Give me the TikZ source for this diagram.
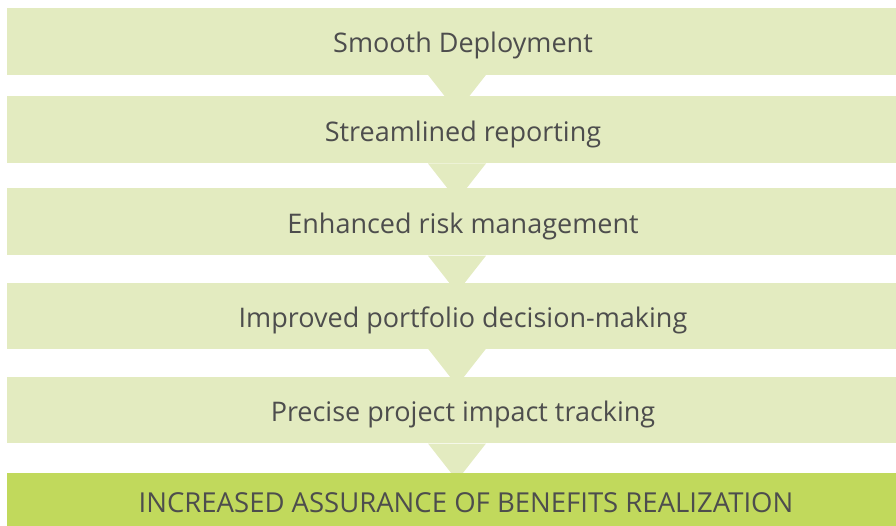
\documentclass[tikz,border=0pt]{standalone}
\usepackage{fontspec}
\setmainfont{Open Sans}
\definecolor{lightg}{HTML}{E3EBC0}
\definecolor{darkg}{HTML}{C1D95C}
\definecolor{txt}{HTML}{4D4D4D}
\begin{document}
\begin{tikzpicture}[x=1pt,y=-1pt,
  box/.style={rectangle, fill=lightg, inner sep=0pt, minimum width=912pt,
    text=txt, font=\fontsize{27}{30}\selectfont, text height=23pt, text depth=0pt},
  finalbox/.style={box, fill=darkg},
  arrowtip/.style={fill=lightg}]
\useasboundingbox (0,0) rectangle (896,526);
\clip (0,0) rectangle (896,526);
% boxes and arrows, drawn in order so each box covers the previous arrow tip
\node[box, minimum height=66.7pt] (b1) at (463,41.35) {Smooth Deployment};
\fill[arrowtip] ([xshift=-35pt]b1.south) -- ([xshift=23pt]b1.south) -- ([xshift=-6pt,yshift=-37pt]b1.south) -- cycle;
\node[box, minimum height=67.3pt] (b2) at (463,129.65) {Streamlined reporting};
\fill[arrowtip] ([xshift=-35pt]b2.south) -- ([xshift=23pt]b2.south) -- ([xshift=-6pt,yshift=-37pt]b2.south) -- cycle;
\node[box, minimum height=67.2pt] (b3) at (463,221.9) {Enhanced risk management};
\fill[arrowtip] ([xshift=-35pt]b3.south) -- ([xshift=23pt]b3.south) -- ([xshift=-6pt,yshift=-37pt]b3.south) -- cycle;
\node[box, minimum height=65.5pt] (b4) at (463,315.75) {Improved portfolio decision-making};
\fill[arrowtip] ([xshift=-35pt]b4.south) -- ([xshift=23pt]b4.south) -- ([xshift=-6pt,yshift=-37pt]b4.south) -- cycle;
\node[box, minimum height=66.6pt] (b5) at (463,410) {Precise project impact tracking};
\fill[arrowtip] ([xshift=-35pt]b5.south) -- ([xshift=23pt]b5.south) -- ([xshift=-6pt,yshift=-37pt]b5.south) -- cycle;
\node[finalbox, minimum height=80pt] (b6) at (463,513) {};
\node[text=txt, font=\fontsize{27.5}{30}\selectfont, inner sep=0pt, text height=19.5pt, text depth=0pt] (t6) at (466,502.5) {INCREASED ASSURANCE OF BENEFITS REALIZATION};
\end{tikzpicture}
\end{document}
